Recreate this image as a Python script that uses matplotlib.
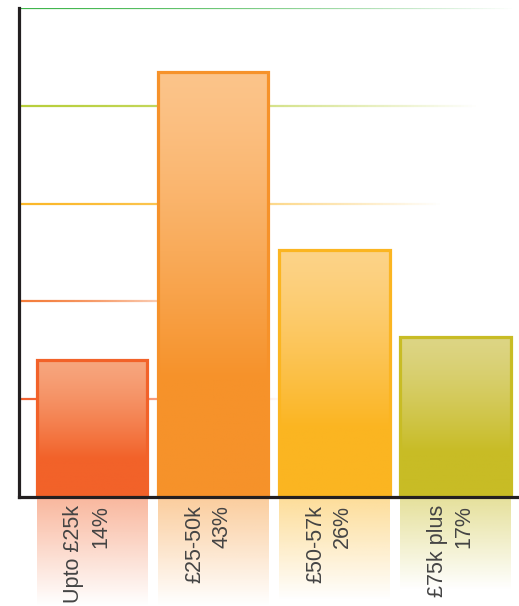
import numpy as np
import matplotlib
matplotlib.use("Agg")
import matplotlib.pyplot as plt
from matplotlib.collections import LineCollection
from matplotlib.colors import to_rgb

# data
labels = ["Upto £25k", "£25-50k", "£50-57k", "£75k plus"]
pct_labels = [14, 43, 26, 17]
bar_heights = [14.0, 43.5, 25.3, 16.4]   # heights as drawn in the picture
top_colors = ["#f7a67e", "#fcc48a", "#fdd388", "#ddd585"]
base_colors = ["#f26229", "#f6922a", "#fbb521", "#c8bc25"]
grid_levels = [10, 20, 30, 40, 50]
grid_colors = ["#f26130", "#f47d3b", "#fbb829", "#b8cf3b", "#3fb54b"]
grid_fade = [1.6, 1.0, 2.9, 3.2, 3.5]   # where each line has faded out (x data)

W, H = 519, 606
fig = plt.figure(figsize=(W / 100, H / 100), dpi=100)
fig.patch.set_facecolor("white")

xmin, xmax = -0.606, 3.523
ax = fig.add_axes([18.5 / W, (H - 497) / H, 1 - 18.5 / W, (497 - 8) / H])
ax.set_facecolor("none")
for s in ["top", "right"]:
    ax.spines[s].set_visible(False)
for s in ["left", "bottom"]:
    ax.spines[s].set_linewidth(2.3)
    ax.spines[s].set_color("#231f20")
    ax.spines[s].set_zorder(10)
ax.set_xticks([])
ax.set_yticks([])

# fading gridlines
n = 120
for lvl, col, end in zip(grid_levels, grid_colors, grid_fade):
    xs = np.linspace(xmin, end, n + 1)
    segs = [[(xs[i], lvl), (xs[i + 1], lvl)] for i in range(n)]
    rgb = to_rgb(col)
    alphas = np.clip(1 - np.linspace(0, 1, n) ** 1.5, 0, 1)
    cols = [(rgb[0], rgb[1], rgb[2], a) for a in alphas]
    lc = LineCollection(segs, colors=cols, linewidths=1.6, zorder=1)
    ax.add_collection(lc)

# gradient bars
width = 0.91
bars = ax.bar(range(len(bar_heights)), bar_heights, width=width, facecolor="none",
              edgecolor=base_colors, linewidth=2.3, zorder=3)
for i, (b, v) in enumerate(zip(bars, bar_heights)):
    c0 = np.array(to_rgb(top_colors[i]))
    c1 = np.array(to_rgb(base_colors[i]))
    t = np.linspace(0, 1, 200)
    t = np.clip(t / 0.72, 0, 1) ** 1.3
    grad = c0[None, :] * (1 - t[:, None]) + c1[None, :] * t[:, None]
    img = grad[:, None, :]
    im = ax.imshow(img, extent=[i - width / 2, i + width / 2, 0, v],
                   aspect="auto", origin="upper", zorder=2)
    im.set_clip_path(b)
ax.set_xlim(xmin, xmax)
ax.set_ylim(0, 50)

# label area under the axis
lab = fig.add_axes([18.5 / W, 0, 1 - 18.5 / W, (H - 499) / H])
lab.axis("off")
box_len = [1.0, 1.0, 0.95, 0.85]
for i, p in enumerate(pct_labels):
    c = np.array(to_rgb(base_colors[i]))
    t = np.linspace(0, 1, 100)
    a = 0.45 * np.clip(1 - t / box_len[i], 0, 1)
    rgba = np.zeros((100, 1, 4))
    rgba[:, 0, :3] = c
    rgba[:, 0, 3] = a
    lab.imshow(rgba, extent=[i - width / 2, i + width / 2, 0, 1],
               aspect="auto", origin="upper", zorder=1)
    lab.text(i - 0.04, 1 - 6 / (H - 499), labels[i] + "\n" + str(p) + "%",
             rotation=90, ha="center", va="top", multialignment="right",
             fontsize=15.5, color="#444444", family="Liberation Sans",
             linespacing=1.35, zorder=2)
lab.set_xlim(xmin, xmax)
lab.set_ylim(0, 1)

fig.savefig("out.png", dpi=100)
